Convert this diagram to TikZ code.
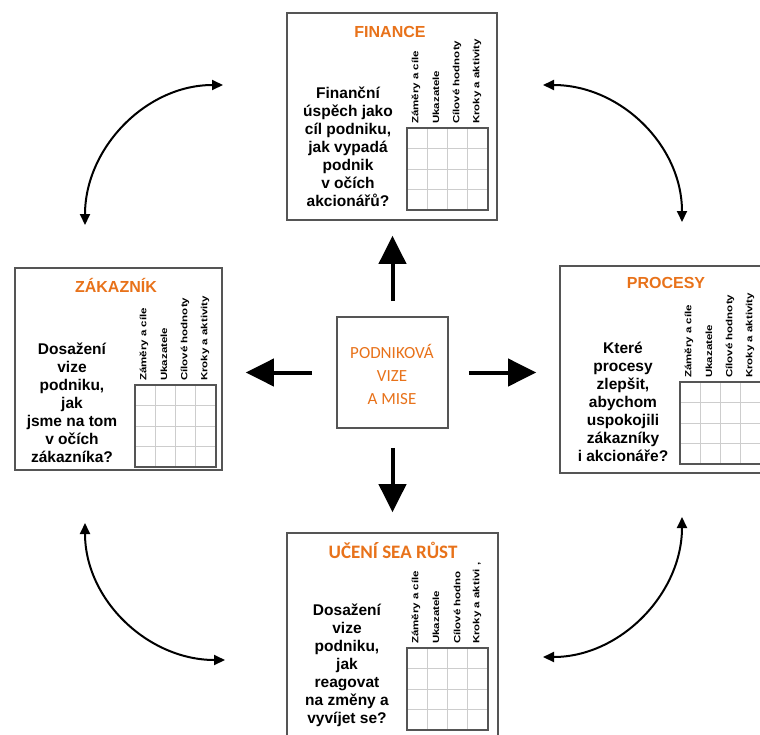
\documentclass[tikz,border=0pt]{standalone}
\usepackage{fontspec}
\setmainfont{Liberation Sans}
\newfontfamily\calibfont{Carlito}
\usetikzlibrary{arrows.meta}
\definecolor{bscorange}{RGB}{232,114,26}
\definecolor{boxgray}{RGB}{85,85,85}
\definecolor{gridgray}{RGB}{205,205,205}
\tikzset{
  panel/.style={draw=boxgray, line width=1.6pt, inner sep=0pt},
  gridline/.style={draw=gridgray, line width=0.9pt},
  gridframe/.style={draw=boxgray, line width=1.4pt},
  collabel/.style={rotate=90, anchor=west, inner sep=0pt, font=\fontsize{11.5}{12}\selectfont\bfseries},
  qtext/.style={align=center, inner sep=0pt, font=\fontsize{15.5}{18}\selectfont\bfseries},
  ptitle/.style={inner sep=0pt, text=bscorange, font=\fontsize{16}{18}\selectfont\bfseries},
  bigarrow/.style={line width=4pt, -{Triangle[length=28pt,width=27pt]}},
  dblarrow/.style={line width=2pt, {Triangle[length=11pt,width=10pt]}-{Triangle[length=11pt,width=10pt]}}
}
\newcommand\bscgrid[5]{% prefix, x, y, label3, label4
  \foreach \i in {1,2,3}{
    \draw[gridline] ({#2+\i*20.25},#3) -- ({#2+\i*20.25},{#3+82});
    \draw[gridline] (#2,{#3+\i*20.5}) -- ({#2+81},{#3+\i*20.5});
  }
  \draw[gridframe] (#2,#3) rectangle ({#2+81},{#3+82});
  \node[collabel] (#1l1) at ({#2+9},{#3-4}) {\scalebox{1}[0.78]{Záměry a cíle}};
  \node[collabel] (#1l2) at ({#2+29},{#3-4}) {\scalebox{1}[0.78]{Ukazatele}};
  \node[collabel] (#1l3) at ({#2+50},{#3-4}) {\scalebox{1}[0.78]{#4}};
  \node[collabel] (#1l4) at ({#2+70},{#3-4}) {\scalebox{1}[0.78]{#5}};
}
\begin{document}
\begin{tikzpicture}[x=1pt,y=-1pt]
\fill[white] (0,0) rectangle (760,734);
\useasboundingbox (0,0) rectangle (760,734);

% panels
\node[panel, minimum width=210pt, minimum height=207pt] (fin) at (392,116.5) {};
\node[panel, minimum width=207pt, minimum height=202pt] (zak) at (118.5,369) {};
\node[panel, minimum width=207pt, minimum height=207pt] (pro) at (663.5,369.5) {};
\node[panel, minimum width=211pt, minimum height=207pt] (uce) at (392.5,636.5) {};
\node[panel, minimum width=111pt, minimum height=111pt] (vis) at (392.5,372.5) {};

% titles
\node[ptitle] (tfin) at (390,32) {FINANCE};
\node[ptitle] (tzak) at (116,285) {ZÁKAZNÍK};
\node[ptitle] (tpro) at (666,283) {PROCESY};
\node[ptitle, font=\calibfont\fontsize{19}{20}\selectfont\bfseries] (tuce) at (393,550) {UČENÍ SEA RŮST};

% center text
\node[align=center, inner sep=0pt, text=bscorange, font=\calibfont\fontsize{17}{23}\selectfont] (tvis) at (392,374) {PODNIKOVÁ\\VIZE\\A MISE};

% questions
\node[qtext] (qfin) at (348,147) {Finanční\\úspěch jako\\cíl podniku,\\jak vypadá\\podnik\\v očích\\akcionářů?};
\node[qtext] (qzak) at (72,403) {Dosažení\\vize\\podniku,\\jak\\jsme na tom\\v očích\\zákazníka?};
\node[qtext] (qpro) at (623,402) {Které\\procesy\\zlepšit,\\abychom\\uspokojili\\zákazníky\\i akcionáře?};
\node[qtext] (quce) at (347,665) {Dosažení\\vize\\podniku,\\jak\\reagovat\\na změny a\\vyvíjet se?};

% grids
\bscgrid{gfin}{407}{128}{Cílové hodnoty}{Kroky a aktivity}
\bscgrid{gzak}{135}{385}{Cílové hodnoty}{Kroky a aktivity}
\bscgrid{gpro}{680}{382}{Cílové hodnoty}{Kroky a aktivity}
\bscgrid{guce}{407}{648}{Cílové hodno}{Kroky a aktivi ,}

% straight arrows
\draw[bigarrow, shorten <=15pt, shorten >=15pt] (vis.north) -- (vis.north |- fin.south);
\draw[bigarrow, shorten <=19pt, shorten >=20pt] (vis.south) -- (vis.south |- uce.north);
\draw[bigarrow, shorten <=24pt, shorten >=23pt] (vis.west) -- (vis.west -| zak.east);
\draw[bigarrow, shorten <=20pt, shorten >=23pt] (vis.east) -- (vis.east -| pro.west);

% curved arrows
\coordinate (tl1) at (85,225);
\coordinate (tl2) at (223,85);
\coordinate (tr1) at (543,85);
\coordinate (tr2) at (682,222);
\coordinate (bl1) at (85,523);
\coordinate (bl2) at (225,660);
\coordinate (br1) at (682,517);
\coordinate (br2) at (543,657);
\draw[dblarrow] (tl1) .. controls +(0,-77) and +(-77,0) .. (tl2);
\draw[dblarrow] (tr1) .. controls +(77,0) and +(0,-77) .. (tr2);
\draw[dblarrow] (bl1) .. controls +(0,77) and +(-77,0) .. (bl2);
\draw[dblarrow] (br1) .. controls +(0,77) and +(77,0) .. (br2);
\end{tikzpicture}
\end{document}
